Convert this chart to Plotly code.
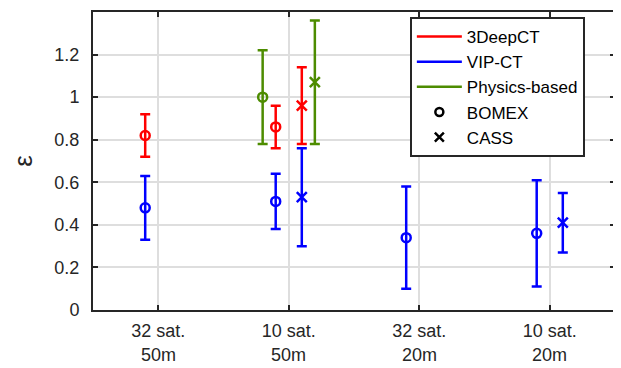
import plotly.graph_objects as go

# ---------------- data ----------------
categories = [1, 2, 3, 4]
tick_line1 = ["32 sat.", "10 sat.", "32 sat.", "10 sat."]
tick_line2 = ["50m", "50m", "20m", "20m"]

series_names = ["3DeepCT", "VIP-CT", "Physics-based"]
cases = ["BOMEX", "CASS"]

# mean / low / high per category (None = no data)
deepct_bomex_mean = [0.82, 0.86, None, None]
deepct_bomex_low = [0.72, 0.76, None, None]
deepct_bomex_high = [0.92, 0.96, None, None]
deepct_cass_mean = [None, 0.96, None, None]
deepct_cass_low = [None, 0.78, None, None]
deepct_cass_high = [None, 1.14, None, None]

vipct_bomex_mean = [0.48, 0.51, 0.34, 0.36]
vipct_bomex_low = [0.33, 0.38, 0.10, 0.11]
vipct_bomex_high = [0.63, 0.64, 0.58, 0.61]
vipct_cass_mean = [None, 0.53, None, 0.41]
vipct_cass_low = [None, 0.30, None, 0.27]
vipct_cass_high = [None, 0.76, None, 0.55]

phys_bomex_mean = [None, 1.00, None, None]
phys_bomex_low = [None, 0.78, None, None]
phys_bomex_high = [None, 1.22, None, None]
phys_cass_mean = [None, 1.07, None, None]
phys_cass_low = [None, 0.78, None, None]
phys_cass_high = [None, 1.36, None, None]

y_ticks = [0, 0.2, 0.4, 0.6, 0.8, 1, 1.2]
y_ticklabels = ["0", "0.2", "0.4", "0.6", "0.8", "1", "1.2"]

# ---------------- style ----------------
colors = {"3DeepCT": "#ff0000", "VIP-CT": "#0000ff", "Physics-based": "#4d8c00"}
offsets = {
    ("3DeepCT", "BOMEX"): -0.1, ("3DeepCT", "CASS"): 0.1,
    ("VIP-CT", "BOMEX"): -0.1, ("VIP-CT", "CASS"): 0.1,
    ("Physics-based", "BOMEX"): -0.2, ("Physics-based", "CASS"): 0.2,
}
symbols = {"BOMEX": "circle-open", "CASS": "x-thin-open"}
sizes = {"BOMEX": 9, "CASS": 10}

data = {
    ("3DeepCT", "BOMEX"): (deepct_bomex_mean, deepct_bomex_low, deepct_bomex_high),
    ("3DeepCT", "CASS"): (deepct_cass_mean, deepct_cass_low, deepct_cass_high),
    ("VIP-CT", "BOMEX"): (vipct_bomex_mean, vipct_bomex_low, vipct_bomex_high),
    ("VIP-CT", "CASS"): (vipct_cass_mean, vipct_cass_low, vipct_cass_high),
    ("Physics-based", "BOMEX"): (phys_bomex_mean, phys_bomex_low, phys_bomex_high),
    ("Physics-based", "CASS"): (phys_cass_mean, phys_cass_low, phys_cass_high),
}

FONT = "Arial, Liberation Sans, Helvetica, sans-serif"
AX = "#262626"

fig = go.Figure()

for name in series_names:
    for case in cases:
        mean, low, high = data[(name, case)]
        xs, ys, ep, em = [], [], [], []
        for c, m, lo, hi in zip(categories, mean, low, high):
            if m is None:
                continue
            xs.append(c + offsets[(name, case)])
            ys.append(m)
            ep.append(hi - m)
            em.append(m - lo)
        fig.add_trace(go.Scatter(
            x=xs, y=ys, mode="markers", showlegend=False,
            marker=dict(symbol=symbols[case], size=sizes[case], color=colors[name],
                        line=dict(width=2.5, color=colors[name])),
            error_y=dict(type="data", symmetric=False, array=ep, arrayminus=em,
                         color=colors[name], thickness=2.5, width=5),
        ))

# legend entries
for name in series_names:
    fig.add_trace(go.Scatter(x=[None], y=[None], mode="lines", name=name,
                             line=dict(color=colors[name], width=2.5)))
for case in cases:
    fig.add_trace(go.Scatter(x=[None], y=[None], mode="markers", name=case,
                             marker=dict(symbol=symbols[case], size=sizes[case] - 1, color="black",
                                         line=dict(width=2.5, color="black"))))

for c, t in zip(categories, tick_line2):
    fig.add_annotation(x=c, y=-0.192, xref="x", yref="paper", text=t, showarrow=False,
                       yanchor="bottom", font=dict(size=18, color=AX, family=FONT))

# page body has an 8px margin; figure sized so plot area lands where the reference has it
fig.update_layout(
    width=613, height=360,
    margin=dict(l=85, r=6, t=2, b=58),
    plot_bgcolor="white", paper_bgcolor="white",
    font=dict(family=FONT, size=18, color=AX),
    legend=dict(x=0.607, y=0.983, xanchor="left", yanchor="top",
                bordercolor=AX, borderwidth=2, bgcolor="white", itemwidth=45,
                font=dict(size=17, color="black"), tracegroupgap=0),
    xaxis=dict(range=[0.5, 4.5], tickvals=categories, ticktext=tick_line1,
               showgrid=True, gridcolor="#dedede", gridwidth=1.5,
               showline=True, linecolor=AX, linewidth=2, mirror="ticks",
               ticks="inside", ticklen=5, tickwidth=2, tickcolor=AX,
               ticklabelstandoff=3,
               zeroline=False, tickfont=dict(size=18, color=AX)),
    yaxis=dict(range=[0, 1.4], tickvals=y_ticks, ticktext=y_ticklabels,
               showgrid=True, gridcolor="#dedede", gridwidth=1.5,
               showline=True, linecolor=AX, linewidth=2, mirror="ticks",
               ticks="inside", ticklen=5, tickwidth=2, tickcolor=AX,
               ticklabelstandoff=8,
               zeroline=False, tickfont=dict(size=18, color=AX)),
    yaxis_title=dict(text="ε", font=dict(size=26, color=AX), standoff=16),
)

fig.write_html("out.html")
